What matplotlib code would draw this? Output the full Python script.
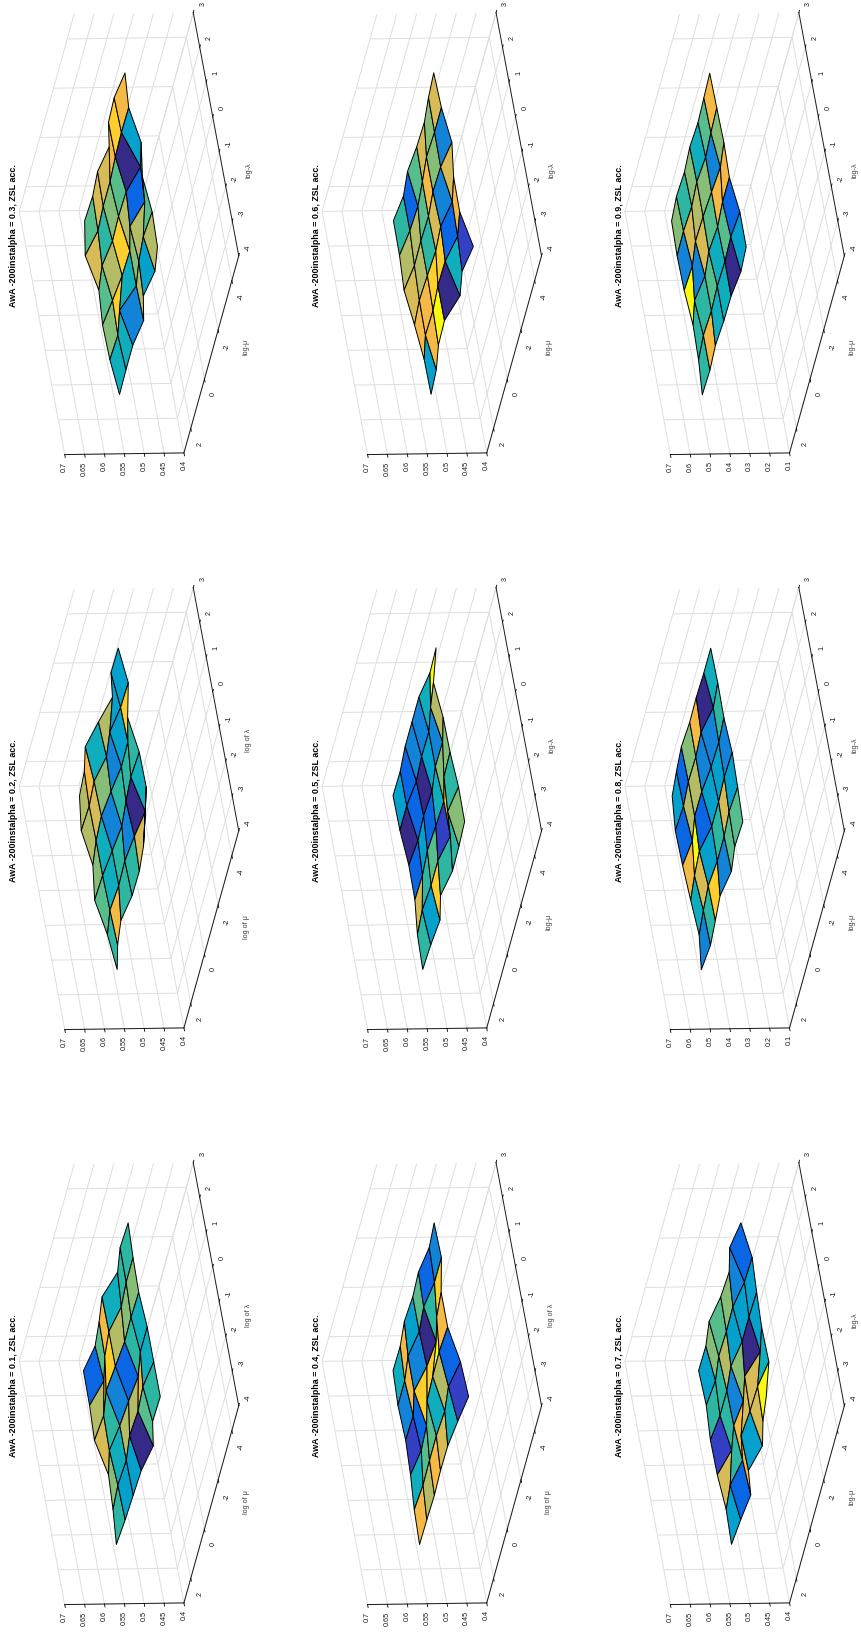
import matplotlib
matplotlib.use("Agg")
import matplotlib.pyplot as plt
import numpy as np
from matplotlib.colors import ListedColormap, Normalize

plt.rcParams['font.family'] = ['Liberation Sans', 'DejaVu Sans']
plt.rcParams['axes.unicode_minus'] = False

lam = [-3, -2, -1, 0, 1, 2]
mu = [-4, -3, -2, -1, 0, 1, 2]
lam_ticks = [-4, -3, -2, -1, 0, 1, 2, 3]
mu_ticks = [-4, -2, 0, 2]
z_low = [0.4, 0.45, 0.5, 0.55, 0.6, 0.65, 0.7]
z_wide = [0.1, 0.2, 0.3, 0.4, 0.5, 0.6, 0.7]
z_low_labels = ['0.4', '0.45', '0.5', '0.55', '0.6', '0.65', '0.7']
z_wide_labels = ['0.1', '0.2', '0.3', '0.4', '0.5', '0.6', '0.7']

# heights: one row per lambda, one column per mu
z01 = [[.564,.566,.547,.560,.563,.566,.571],[.564,.574,.569,.573,.564,.568,.563],[.564,.564,.552,.559,.564,.573,.558],
       [.569,.571,.570,.576,.582,.571,.577],[.567,.567,.562,.576,.569,.554,.573],[.563,.566,.555,.577,.567,.560,.572]]
z02 = [[.603,.589,.582,.583,.594,.585,.569],[.583,.568,.578,.585,.583,.588,.577],[.584,.588,.583,.576,.583,.590,.593],
       [.597,.579,.578,.587,.594,.590,.581],[.579,.581,.591,.582,.596,.591,.594],[.588,.589,.568,.586,.602,.587,.582]]
z03 = [[.571,.560,.572,.554,.564,.564,.563],[.568,.573,.567,.556,.581,.568,.571],[.576,.553,.573,.556,.558,.565,.573],
       [.563,.547,.566,.568,.566,.575,.566],[.578,.579,.577,.573,.573,.569,.584],[.571,.581,.578,.559,.571,.566,.569]]
z04 = [[.550,.560,.568,.569,.567,.569,.570],[.554,.567,.559,.563,.563,.562,.567],[.570,.574,.573,.570,.554,.550,.560],
       [.570,.564,.548,.554,.569,.554,.556],[.553,.553,.563,.557,.568,.559,.559],[.555,.550,.560,.557,.561,.554,.555]]
z05 = [[.560,.557,.556,.569,.553,.559,.562],[.559,.569,.545,.559,.559,.564,.559],[.564,.562,.545,.548,.552,.547,.549],
       [.565,.549,.550,.541,.545,.542,.548],[.573,.563,.550,.551,.547,.554,.554],[.550,.548,.559,.559,.559,.554,.555]]
z06 = [[.538,.549,.537,.559,.557,.545,.541],[.556,.544,.558,.559,.554,.556,.542],[.555,.541,.553,.548,.552,.555,.550],
       [.543,.554,.556,.550,.552,.551,.560],[.553,.553,.556,.549,.543,.546,.555],[.556,.552,.545,.547,.553,.546,.554]]
z07 = [[.563,.554,.538,.556,.533,.541,.547],[.540,.551,.553,.558,.537,.551,.544],[.542,.528,.550,.536,.543,.531,.550],
       [.538,.540,.540,.551,.544,.544,.551],[.533,.535,.547,.546,.548,.539,.545],[.545,.556,.540,.544,.556,.547,.548]]
z08 = [[.544,.550,.532,.555,.544,.534,.546],[.537,.546,.536,.536,.547,.537,.524],[.532,.537,.531,.531,.559,.549,.534],
       [.541,.532,.536,.549,.550,.527,.542],[.539,.527,.554,.546,.549,.539,.546],[.542,.542,.546,.544,.552,.542,.529]]
z09 = [[.527,.519,.534,.536,.544,.537,.541],[.526,.537,.532,.536,.531,.537,.527],[.546,.546,.536,.546,.531,.549,.522],
       [.541,.524,.534,.542,.546,.527,.534],[.544,.539,.531,.541,.532,.539,.537],[.547,.542,.537,.544,.536,.542,.532]]

# face colour levels, 0 (darkest) to 13 (yellow)
c01 = [[6,7,0,4,4,6],[5,11,9,9,5,8],[5,6,2,3,6,10],[8,8,9,12,11,9],[6,6,5,11,7,2]]
c02 = [[10,10,6,6,11,6],[5,0,3,6,5,7],[6,6,6,3,5,8],[12,4,3,8,10,9],[4,4,9,5,11,9]]
c03 = [[9,4,9,3,5,5],[7,9,8,5,12,8],[4,2,9,12,9,7],[4,0,7,8,6,10],[11,12,11,10,10,7]]
c04 = [[1,5,10,11,9,11],[2,9,5,7,7,5],[11,13,12,12,2,1],[12,6,0,3,11,3],[3,2,7,4,11,5]]
c05 = [[8,6,6,12,4,6],[6,12,1,7,6,10],[8,8,5,2,4,2],[9,3,4,0,2,0],[13,5,3,3,2,4]]
c06 = [[1,5,0,13,11,4],[11,2,12,12,11,11],[10,3,10,6,9,10],[3,8,11,7,9,9],[10,8,10,7,2,6]]
c07 = [[13,10,4,11,2,4],[5,10,10,11,6,10],[4,0,8,3,6,1],[4,4,4,9,6,6],[2,3,8,7,8,4]]
c08 = [[7,7,3,12,6,3],[4,10,6,4,10,5],[3,4,4,2,13,11],[6,3,3,9,9,2],[5,0,11,8,2,4]]
c09 = [[4,0,5,5,11,6],[2,7,5,7,6,6],[11,11,7,10,3,13],[8,3,8,9,10,3],[11,7,5,8,6,8]]

palette = ['#352A87', '#3340C4', '#0B66E4', '#1283D6', '#06A0CC', '#10AEBC', '#2DB7A3', '#58BD8C',
           '#86BE78', '#B4BD66', '#D7BB56', '#F5B945', '#FDCF2C', '#F9FB0E']
cmap = ListedColormap(palette)
norm = Normalize(-0.5, 13.5)

panels = [
    ('0.1', 0, 2, z01, c01, 'of'), ('0.2', 0, 1, z02, c02, 'of'), ('0.3', 0, 0, z03, c03, 'dash'),
    ('0.4', 1, 2, z04, c04, 'of'), ('0.5', 1, 1, z05, c05, 'dash'), ('0.6', 1, 0, z06, c06, 'dash'),
    ('0.7', 2, 2, z07, c07, 'dash'), ('0.8', 2, 1, z08, c08, 'dash'), ('0.9', 2, 0, z09, c09, 'dash'),
]

W, H = 861, 1638
fig = plt.figure(figsize=(W / 100, H / 100), dpi=100)
side = 480.0
dx, dy = 302.8, 575.0
cx0, cy0 = 129.0, 233.6
GRID = '#DEDEDE'
DARK = '#1A1A1A'
LABEL = '#404040'
tick_fs, lab_fs, title_fs = 5.2, 5.2, 6.4

for alpha, col, row, z, c, style in panels:
    cx = cx0 + col * dx
    cy = cy0 + row * dy
    left = (cx - 0.5135 * side) / W
    bottom = (H - cy - 0.5135 * side) / H
    ax = fig.add_axes([left, bottom, side / W, side / H], projection='3d', proj_type='ortho')
    ax.patch.set_alpha(0)
    ax.set_box_aspect((304, 319, 121), zoom=0.872 * side / 448.0)
    ax.view_init(elev=13, azim=232.5, roll=90.8)
    wide = alpha in ('0.8', '0.9')
    zt = z_wide if wide else z_low
    zl = z_wide_labels if wide else z_low_labels
    ax.set_xlim(-4, 3, view_margin=0)
    ax.set_ylim(-5, 3, view_margin=0)
    ax.set_zlim(zt[0], zt[-1], view_margin=0)
    ax.set_xticks(lam_ticks)
    ax.set_yticks(mu_ticks)
    ax.set_zticks(zt)
    ax.set_zticklabels(zl)
    X, Y = np.meshgrid(lam, mu, indexing='ij')
    ax.plot_surface(X, Y, np.array(z), rstride=1, cstride=1,
                    facecolors=cmap(norm(np.array(c))), edgecolor='black', linewidth=0.7, shade=False,
                    antialiased=True)
    for axis in (ax.xaxis, ax.yaxis, ax.zaxis):
        axis.set_pane_color((1, 1, 1, 0))
        axis.pane.set_edgecolor('none')
        axis.line.set_color(DARK)
        axis.line.set_linewidth(0.7)
        axis._axinfo['grid']['color'] = GRID
        axis._axinfo['grid']['linewidth'] = 0.7
        axis._axinfo['tick']['color'] = DARK
        axis._axinfo['tick']['linewidth'] = {True: 0.6, False: 0.6}
        axis._axinfo['tick']['inward_factor'] = 0.15
        axis._axinfo['tick']['outward_factor'] = 0.0
        axis.set_tick_params(labelsize=tick_fs, labelcolor=DARK, labelrotation=90, pad=2)
    ax.zaxis.set_tick_params(pad=-5)
    for t in ax.zaxis.get_major_ticks():
        t.label1.set_va('top')
    lx = 'log of λ' if style == 'of' else 'log-λ'
    ly = 'log of μ' if style == 'of' else 'log-μ'
    fig.text((249 + col * dx) / W, 1 - ((165 if style == 'of' else 170) + row * dy) / H, lx,
             rotation=90, ha='center', va='center', fontsize=lab_fs, color=LABEL)
    fig.text((246 + col * dx) / W, 1 - ((352 if style == 'of' else 347) + row * dy) / H, ly,
             rotation=90, ha='center', va='center', fontsize=lab_fs, color=LABEL)
    fig.text((14 + col * dx) / W, 1 - (236 + row * dy) / H,
             f'AwA -200instalpha = {alpha}, ZSL acc.', rotation=90, ha='center', va='center',
             fontsize=title_fs, fontweight='bold', color='black')

fig.savefig('out.png', dpi=100)
